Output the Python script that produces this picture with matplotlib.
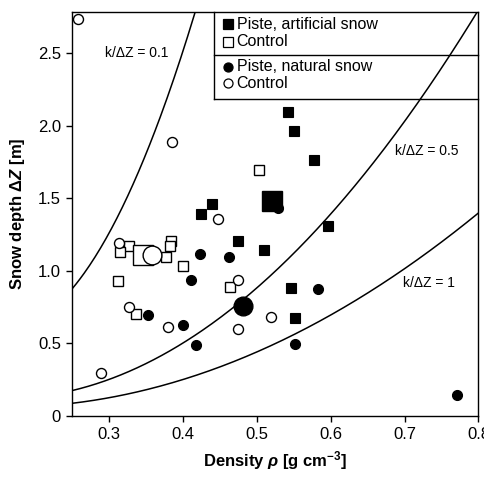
import numpy as np
import matplotlib
matplotlib.use("Agg")
import matplotlib.pyplot as plt

plt.rcParams['font.family'] = ['Liberation Sans', 'DejaVu Sans']
plt.rcParams['mathtext.fontset'] = 'custom'
plt.rcParams['mathtext.rm'] = 'Liberation Sans:bold'
plt.rcParams['mathtext.it'] = 'Liberation Sans:bold:italic'
plt.rcParams['mathtext.bf'] = 'Liberation Sans:bold'

# ---- data ----
art_piste_x = [0.5419, 0.5500, 0.5770, 0.4393, 0.4249, 0.5968, 0.4748, 0.5095, 0.5459, 0.5523]
art_piste_y = [2.093, 1.966, 1.764, 1.464, 1.390, 1.307, 1.208, 1.142, 0.880, 0.677]
art_piste_mean = (0.5203, 1.482)

art_ctrl_x = [0.5032, 0.3844, 0.3827, 0.3273, 0.3152, 0.3773, 0.3998, 0.3125, 0.4636, 0.3368]
art_ctrl_y = [1.697, 1.208, 1.174, 1.172, 1.128, 1.098, 1.036, 0.930, 0.891, 0.701]
art_ctrl_mean = (0.3458, 1.110)

nat_piste_x = [0.5294, 0.4236, 0.4619, 0.4106, 0.5833, 0.3530, 0.3998, 0.4177, 0.5523, 0.7704]
nat_piste_y = [1.434, 1.119, 1.098, 0.939, 0.873, 0.698, 0.627, 0.491, 0.498, 0.143]
nat_piste_mean = (0.4808, 0.758)

nat_ctrl_x = [0.2581, 0.3850, 0.4474, 0.3142, 0.4744, 0.3273, 0.3804, 0.4740, 0.5186, 0.2891]
nat_ctrl_y = [2.736, 1.890, 1.356, 1.190, 0.937, 0.749, 0.611, 0.602, 0.680, 0.298]
nat_ctrl_mean = (0.3588, 1.110)

# thermal conductivity k(rho) = c0 + c1*rho + c2*rho^2 (Sturm et al. 1997)
k_coef = (0.138, -1.01, 3.233)
k_over_dz = [0.1, 0.5, 1.0]
curve_labels = ['k/\u0394Z = 0.1', 'k/\u0394Z = 0.5', 'k/\u0394Z = 1']
label_pos = [(0.338, 2.50), (0.730, 1.828), (0.7335, 0.919)]

x_ticks = [0.3, 0.4, 0.5, 0.6, 0.7, 0.8]
y_ticks = [0, 0.5, 1.0, 1.5, 2.0, 2.5]
y_ticklabels = ['0', '0.5', '1.0', '1.5', '2.0', '2.5']

legend_labels = ['Piste, artificial snow', 'Control', 'Piste, natural snow', 'Control']

# ---- figure ----
fig = plt.figure(figsize=(4.85, 4.80), dpi=100)
ax = fig.add_axes([0.1485, 0.1333, 0.838, 0.8423])

rho = np.linspace(0.25, 0.8, 300)
k = k_coef[0] + k_coef[1] * rho + k_coef[2] * rho ** 2
for c in k_over_dz:
    ax.plot(rho, k / c, color='black', lw=1.1, zorder=2)
for lab, (tx, ty) in zip(curve_labels, label_pos):
    ax.text(tx, ty, lab, ha='center', va='center', fontsize=10)

ms = 6.8
msc = 7.2
big = 13.5
ax.plot(art_piste_x, art_piste_y, 's', ms=ms, mfc='black', mec='black', mew=0.8, ls='none', zorder=3)
ax.plot(art_ctrl_x, art_ctrl_y, 's', ms=ms, mfc='white', mec='black', mew=1.0, ls='none', zorder=3)
ax.plot(*art_piste_mean, 's', ms=big + 1, mfc='black', mec='black', ls='none', zorder=3)
ax.plot(*art_ctrl_mean, 's', ms=big + 1, mfc='white', mec='black', mew=1.0, ls='none', zorder=3)
ax.plot(nat_piste_x, nat_piste_y, 'o', ms=msc, mfc='black', mec='black', mew=0.8, ls='none', zorder=4)
ax.plot(nat_ctrl_x, nat_ctrl_y, 'o', ms=msc, mfc='white', mec='black', mew=1.0, ls='none', zorder=4)
ax.plot(*nat_piste_mean, 'o', ms=big, mfc='black', mec='black', ls='none', zorder=4)
ax.plot(*nat_ctrl_mean, 'o', ms=big, mfc='white', mec='black', mew=1.0, ls='none', zorder=4)

ax.set_xlim(0.25, 0.8)
ax.set_ylim(0, 2.786)
ax.set_xticks(x_ticks)
ax.set_xticklabels([f'{v:.1f}' for v in x_ticks])
ax.set_yticks(y_ticks)
ax.set_yticklabels(y_ticklabels)
ax.tick_params(axis='both', direction='out', length=4, width=1.0, labelsize=12, pad=4,
               top=False, right=False)
for s in ax.spines.values():
    s.set_linewidth(1.0)

ax.set_xlabel(r'Density $\rho$ [g cm$^{-3}$]', fontsize=12, fontweight='bold', labelpad=5)
ax.set_ylabel(r'Snow depth $\mathit{\Delta Z}$ [m]', fontsize=12, fontweight='bold', labelpad=8)

# ---- custom two-part legend box ----
tr = ax.transAxes
lx0, lx1 = 0.3496, 1.0
ly_top, ly_mid, ly_bot = 1.0, 0.893, 0.783
ax.plot([lx0, lx0], [ly_bot, ly_top], color='black', lw=1.0, transform=tr, clip_on=False, zorder=5)
ax.plot([lx0, lx1], [ly_mid, ly_mid], color='black', lw=1.0, transform=tr, clip_on=False, zorder=5)
ax.plot([lx0, lx1], [ly_bot, ly_bot], color='black', lw=1.0, transform=tr, clip_on=False, zorder=5)
rows_y = [0.969, 0.926, 0.864, 0.823]
markers = [('s', 'black'), ('s', 'white'), ('o', 'black'), ('o', 'white')]
for yy, (m, fc), lab in zip(rows_y, markers, legend_labels):
    ax.plot([0.384], [yy], m, ms=6.5, mfc=fc, mec='black', mew=0.9, transform=tr,
            clip_on=False, zorder=6)
    ax.text(0.405, yy, lab, transform=tr, ha='left', va='center', fontsize=11.5, zorder=6)

fig.savefig('out.png', dpi=100)
